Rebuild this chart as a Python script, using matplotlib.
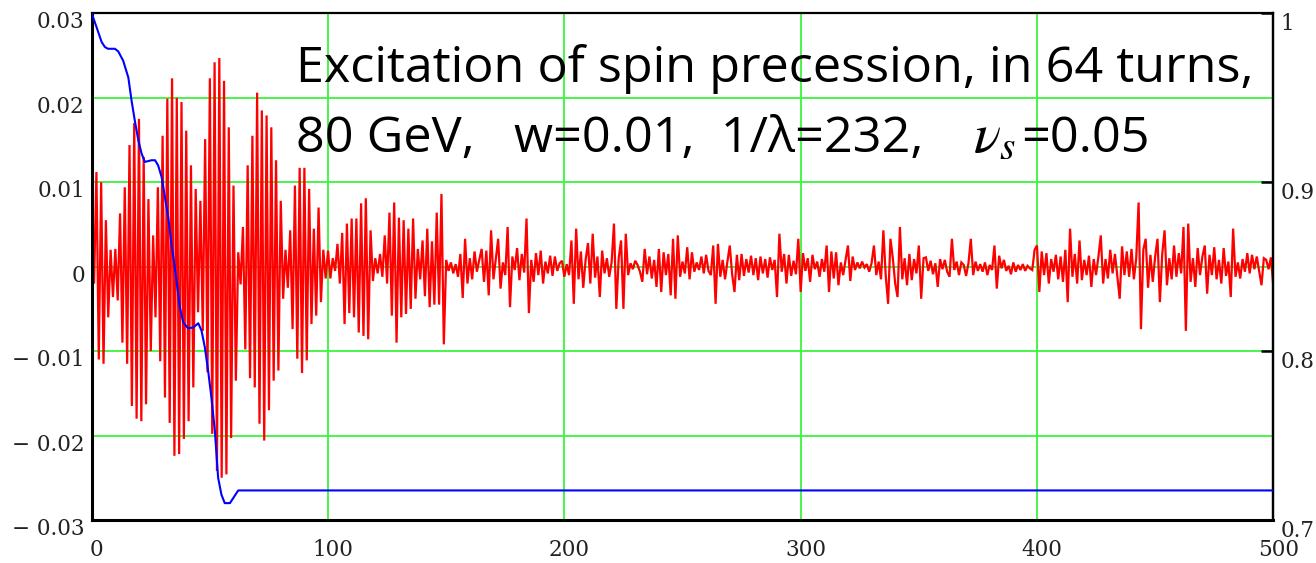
import numpy as np
import matplotlib
matplotlib.use("Agg")
import matplotlib.pyplot as plt
from matplotlib.transforms import ScaledTranslation

# ---------------- data ----------------
# red trace: transverse spin component per turn, in units of 1e-3 (turns 0..500)
spin_milli = [
    5.5, -2.0, 11.2, -11.0, 10.0, -11.5, 5.5, -6.0, 2.0, -3.6,
    2.1, -4.0, 6.3, -9.0, 9.4, -11.5, 14.4, -16.5, 17.0, -18.0,
    17.5, -18.3, 13.0, -16.3, 8.0, -10.0, 3.7, -6.0, 9.4, -11.2,
    15.5, -15.5, 19.9, -18.5, 22.3, -22.4, 20.0, -22.2, 19.5, -20.4,
    16.1, -18.3, 12.0, -14.3, 9.2, -5.4, 7.8, -7.6, 15.1, -12.5,
    22.3, -19.8, 24.2, -24.2, 24.7, -25.0, 22.0, -24.6, 16.5, -20.3,
    9.6, -13.5, 1.7, -2.1, 4.7, -9.8, 12.0, -13.2, 15.5, -14.3,
    20.6, -18.6, 18.5, -20.6, 17.9, -17.0, 16.5, -13.5, 12.6, -12.3,
    7.8, -3.8, 2.0, -2.5, 4.3, -7.4, 9.6, -10.9, 11.7, -12.6,
    11.7, -11.1, 9.2, -6.8, 4.5, -5.8, 7.0, -4.2, 2.0, -1.4,
    1.9, -1.4, 1.0, -0.5, 2.7, -2.0, 4.0, -6.8, 5.1, -5.5,
    5.7, -6.0, 5.7, -7.8, 7.5, -8.2, 8.1, -8.6, 4.3, -1.7,
    1.0, -0.8, 1.5, -1.2, 3.7, -2.0, 6.4, -5.8, 7.6, -9.0,
    5.8, -6.0, 5.5, -5.6, 4.5, -5.0, 5.7, -3.8, 2.1, -1.5,
    3.1, -3.5, 4.5, -4.8, 3.0, -4.5, 6.4, -4.5, 8.6, -9.2,
    0.8, -0.5, 0.5, -0.8, 0.3, -1.2, 1.5, -3.7, 3.3, -2.0,
    1.0, -1.5, 1.8, -0.6, 0.8, 2.1, -1.8, 1.9, -3.4, 4.3,
    -1.5, 0.9, 3.3, -2.6, 0.5, -1.0, 4.7, -4.8, 1.2, -0.4,
    2.2, -1.6, 1.5, -0.7, 5.7, -5.5, 0.8, -1.8, 1.6, -1.0,
    1.9, -2.0, 0.6, -0.8, 1.3, -1.1, 1.2, -0.5, 0.4, 0.7,
    -1.2, 0.3, -1.0, 3.1, -4.4, 4.5, -1.5, 1.8, -2.5, 0.8,
    2.8, -2.0, 3.9, -1.3, 1.2, -3.6, 1.9, -0.8, 1.0, -1.2,
    0.5, 5.1, -5.0, 1.0, 3.1, -5.0, 3.9, -1.0, 0.4, -0.3,
    0.7, 0.2, -0.6, -1.8, 2.1, -0.9, 1.2, -1.4, 0.8, -2.4,
    2.1, -3.0, 1.7, -1.0, 1.5, -3.4, 3.3, -3.8, 3.7, -1.2,
    0.6, -0.8, 2.3, -1.5, 1.7, -0.6, 0.5, -0.4, 1.2, -0.8,
    1.4, -0.5, -1.0, 2.5, -4.4, 2.7, -1.2, 0.8, -1.5, 0.6,
    2.5, -0.9, -3.0, 1.4, -1.6, 1.5, -1.1, 0.9, -0.7, 1.3,
    -1.0, 1.0, -1.6, 1.2, -0.8, 0.9, -1.3, 1.1, -0.4, 0.8,
    -3.6, 3.9, -0.6, 1.5, -2.0, 1.4, -1.1, 0.7, -0.9, 3.3,
    -3.0, 1.6, -0.5, 1.0, -1.8, 1.4, -0.3, 0.6, -1.2, 0.9,
    -0.6, 2.5, -3.0, 1.8, -1.4, 1.7, -2.2, 0.5, -1.0, 0.8,
    2.5, -1.7, 1.2, -0.4, 0.5, -0.2, 0.6, -0.1, 0.3, -0.6,
    0.4, 2.5, -1.0, 0.6, -1.5, 4.3, -1.1, -4.4, 3.3, 1.0,
    -2.0, -3.6, 4.7, -1.5, 1.0, -2.2, 1.5, -1.6, 0.9, -0.8,
    2.5, -3.8, 1.0, 1.1, -0.5, 0.7, -0.9, 0.4, -2.4, 0.9,
    -0.3, 0.8, -0.6, -1.2, 3.3, -0.4, 0.6, -1.0, 0.5, 0.2,
    -1.1, 0.4, 3.3, -1.0, 0.6, -0.5, 0.3, -0.6, 0.5, -1.0,
    0.2, -0.4, 2.5, -2.6, 1.3, -0.2, 0.8, -0.5, 0.1, -0.9,
    0.5, -0.6, 0.2, -0.4, 0.3, -0.5, 0.1, -0.2, -0.4, 2.0,
    2.5, -3.0, 1.8, -1.0, 1.6, -2.0, 0.9, -0.6, 1.4, -1.5,
    1.2, -1.8, 2.0, -4.2, 4.5, -1.2, 1.5, -2.0, 3.1, -1.6,
    0.8, -1.0, 1.3, -2.4, 0.9, -1.0, 1.2, 3.7, -2.0, 0.9,
    -1.4, 2.0, -0.8, 1.5, -1.2, -3.8, 2.4, -1.0, 1.8, -1.2,
    2.1, -1.5, 1.0, 7.6, -7.4, 2.0, 3.3, -2.5, 1.4, -1.8,
    1.2, 3.3, -4.2, 1.5, 4.3, -2.2, 1.0, -1.5, 2.5, -1.2,
    1.6, -0.8, 4.7, -7.6, 5.1, -1.8, 1.0, -2.4, 2.2, -1.0,
    1.2, 2.5, -3.2, 1.4, -1.0, 2.3, -1.5, 0.8, -2.0, 2.2,
    -1.1, 0.6, -3.6, 4.5, -1.2, 0.5, -1.4, 0.9, -0.6, 1.6,
    -0.8, 1.4, -0.3, 1.2, -0.5, -2.2, 1.0, 0.8, -0.3, 1.1,
    -2.3,
]

# blue trace: polarization (right axis), turn -> value
pol_turn = [0, 2.0, 4.2, 5.6, 6.9, 9.8, 11.2, 13.3, 15.5, 16.9, 18.3, 19.7,
            21.1, 22.5, 25.3, 26.8, 28.1, 29.6, 31.0, 32.4, 33.8, 35.2, 36.6,
            37.3, 38.7, 40.8, 43.0, 45.1, 46.5, 47.9, 49.3, 50.7, 52.1, 53.5,
            54.9, 56.3, 58.5, 59.9, 62.0, 500]
pol_value = [1.0, 0.992, 0.983, 0.980, 0.979, 0.979, 0.9775, 0.972, 0.962,
             0.948, 0.936, 0.925, 0.917, 0.912, 0.913, 0.913, 0.910, 0.903,
             0.891, 0.879, 0.863, 0.849, 0.834, 0.826, 0.817, 0.8135, 0.814,
             0.8165, 0.812, 0.802, 0.788, 0.772, 0.753, 0.725, 0.715, 0.710,
             0.710, 0.713, 0.7175, 0.7175]

left_ticks = [-0.03, -0.02, -0.01, 0.0, 0.01, 0.02, 0.03]
left_labels = ["\u2212 0.03", "\u2212 0.02", "\u2212 0.01", "0", "0.01", "0.02", "0.03"]
right_ticks = [0.7, 0.8, 0.9, 1.0]
right_labels = ["0.7", "0.8", "0.9", "1"]
x_ticks = [0, 100, 200, 300, 400, 500]
x_labels = ["0", "100", "200", "300", "400", "500"]

title_line1 = "Excitation of spin precession, in 64 turns,"
title_line2a = "80 GeV,   w=0.01,  1/\u03bb=232,"
title_line2b = "$\\nu_s$"
title_line2c = "=0.05"

# ---------------- figure ----------------
plt.rcParams["mathtext.fontset"] = "stix"
W, H = 1316, 563
fig = plt.figure(figsize=(W / 100, H / 100), dpi=100)
ax = fig.add_axes([91.7 / W, 1 - 520 / H, (1273.3 - 91.7) / W, (520 - 13.3) / H])
ax2 = ax.twinx()

turns = np.arange(len(spin_milli))
spin = np.array(spin_milli) * 1e-3

green = "#3cf53c"
ax.set_axisbelow(True)
for t in [100, 200, 300, 400]:
    ax.axvline(t, color=green, lw=1.3, zorder=0)
for v in [-0.02, -0.01, 0.0, 0.01, 0.02]:
    ax.axhline(v, color=green, lw=1.3, zorder=0)

ax.plot(turns, spin, color="#ff0000", lw=1.6, solid_joinstyle="miter", zorder=2)
ax2.plot(pol_turn, pol_value, color="#0000ff", lw=1.5, zorder=3)

ax.set_xlim(0, 500)
ax.set_ylim(-0.03, 0.03)
ax2.set_ylim(0.7, 1.0)

tick_font = dict(family="DejaVu Serif", size=15.5)
ax.set_yticks(left_ticks, left_labels, **tick_font)
ax.set_xticks(x_ticks, x_labels, **tick_font)
ax2.set_yticks(right_ticks, right_labels, **tick_font)

ax.tick_params(axis="both", length=0, pad=5)
ax.tick_params(axis="x", pad=14)
ax2.tick_params(axis="y", direction="in", length=9, width=1.8, pad=5, colors="black")

for lab in ax.get_yticklabels():
    lab.set_va("top")
    lab.set_transform(lab.get_transform() + ScaledTranslation(0, 2 / 100, fig.dpi_scale_trans))
for lab in ax2.get_yticklabels():
    lab.set_va("top")
    lab.set_color("#222222")
for lab in ax.get_xticklabels():
    lab.set_transform(lab.get_transform() + ScaledTranslation(5 / 100, 0, fig.dpi_scale_trans))
for lab in ax.get_yticklabels() + ax.get_xticklabels():
    lab.set_color("#222222")

for side in ["left", "bottom"]:
    ax.spines[side].set_linewidth(2.2)
for side in ["top", "right"]:
    ax.spines[side].set_linewidth(1.6)
for s in ax2.spines.values():
    s.set_visible(False)
ax2.spines["right"].set_linewidth(1.6)
ax2.spines["right"].set_visible(True)

# title text, font size fitted so that line 1 spans the same width as in the reference
title_family = ["Open Sans", "DejaVu Sans"]
common = dict(ha="left", va="baseline", zorder=10, family=title_family, color="black")
t1 = fig.text(296 / W, 1 - 82 / H, title_line1, size=33, **common)
t2a = fig.text(296 / W, 1 - 152 / H, title_line2a, size=33, **common)
t2b = fig.text(973 / W, 1 - 152 / H, title_line2b, size=33, **common)
t2c = fig.text(1021 / W, 1 - 152 / H, title_line2c, size=33, **common)
renderer = fig.canvas.get_renderer()
w1 = t1.get_window_extent(renderer).width
size = 33 * 961.0 / w1
for t in (t1, t2a, t2c):
    t.set_fontsize(size)
t2b.set_fontsize(size * 1.12)

fig.savefig("out.png", dpi=100)
